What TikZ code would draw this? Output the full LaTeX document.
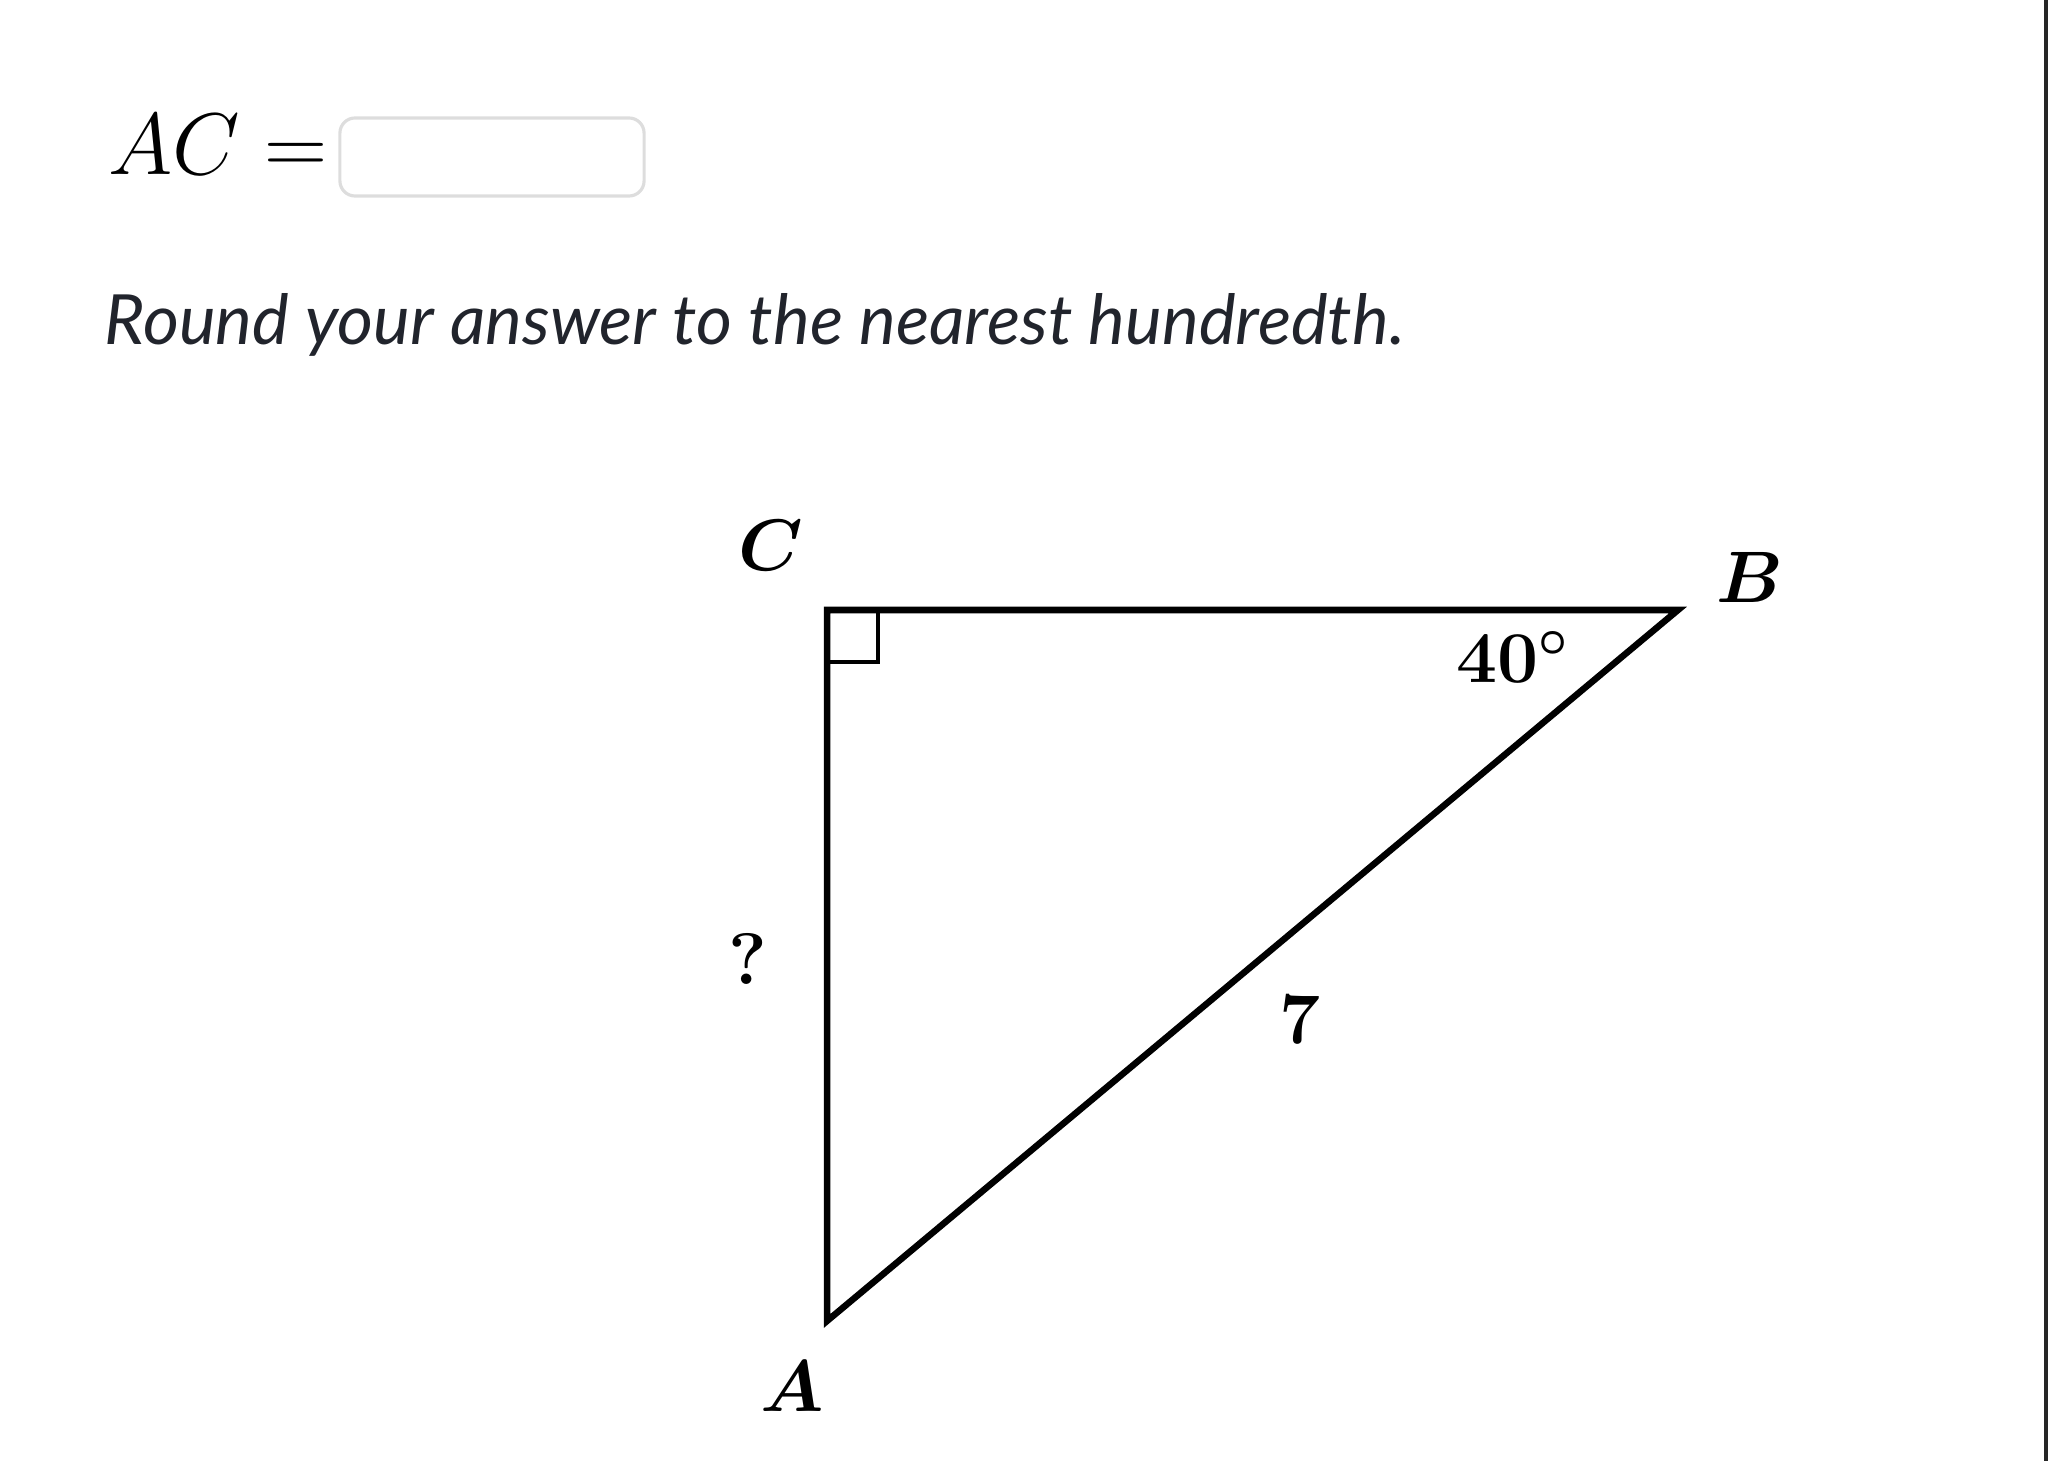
\documentclass[tikz,border=0pt]{standalone}
\usepackage{fontspec}
\newfontfamily\latofont{Lato}
\definecolor{boxgray}{HTML}{DDDDDD}
\definecolor{textgray}{HTML}{21242C}

\begin{document}
\begin{tikzpicture}[x=0.01cm,y=-0.01cm,
  lbl/.style={inner sep=0pt,font=\fontsize{20}{24}\selectfont\boldmath},
  side/.style={line width=1.85pt,line join=miter},
  rightmark/.style={line width=1.1pt}]

 \useasboundingbox (0,0) rectangle (2048,1461);

  % question line
  \node[anchor=base west,inner sep=0pt,font=\fontsize{24}{29}\selectfont] (eq) at (108,175) { $AC=$ };
  \node[draw=boxgray,line width=0.9pt,rounded corners=4.3pt,minimum width=3.04cm,minimum height=0.78cm,inner sep=0pt] (ans) at (492,157) {};
  \node[anchor=base west,inner sep=0pt,text=textgray,font=\latofont\itshape\fontsize{19.7}{24}\selectfont] (round) at (104,345) {Round your answer to the nearest hundredth.};

  % triangle
  \coordinate (c) at (827,610);
  \coordinate (b) at (1678,610);
  \coordinate (a) at (827,1321);

  \draw[side] (a) -- (c) -- (b) -- cycle;
  \draw[rightmark] ([yshift=-52*0.01cm]c) -| ([xshift=51*0.01cm]c);

  \node[lbl] (lc) at (771,545) { $C$ };
  \node[lbl] (lb) at (1750,577) { $B$ };
  \node[lbl] (la) at (792,1386) { $A$ };
  \node[lbl] (ang) at (1513,657) { $40^\circ$ };
  \node[lbl] (q) at (748,959) { $?$ };
  \node[lbl] (hyp) at (1300,1020) { $7$ };

  % page edge
  \draw[line width=0.9pt,black!85] (2046,0) -- (2046,1461);

\end{tikzpicture}
\end{document}
